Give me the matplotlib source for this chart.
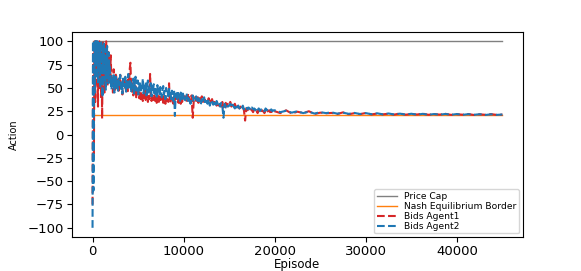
import numpy as np
import matplotlib
matplotlib.use("Agg")
import matplotlib.pyplot as plt

# =========================
# 1. DONNÉES
# =========================
price_cap = 100
nash_border = 20.6
last_episode = 45000

# segments d'épisodes : (début, fin)
segments = [(0, 2000), (2000, 10000), (10000, 20000), (20000, 45000)]

bids_agent1 = [
    # 0 - 2000
    [-75, 60, 95, -20, 80, 100, 35, 90, 70, 100, 55, 85, 30, 95, 68, 100, 50, 78, 92, 40,
     85, 17, 70, 100, 60, 88, 45, 95, 72, 58, 100, 64, 80, 52, 90, 60, 75, 56, 82, 62],
    # 2000 - 10000
    [85, 52, 62, 45, 70, 55, 48, 66, 58, 50,
     60, 47, 56, 64, 49, 55, 43, 58, 52, 61,
     48, 57, 51, 44, 59, 53, 70, 77, 50, 46,
     55, 42, 49, 45, 52, 40, 47, 43, 50, 39,
     44, 38, 46, 41, 36, 43, 39, 47, 37, 42,
     40, 35, 44, 38, 65, 41, 36, 43, 39, 37,
     42, 36, 40, 34, 44, 38, 35, 41, 37, 39,
     36, 42, 34, 39, 37, 33, 40, 36, 38, 35,
     55, 37, 34, 40, 36, 39, 33, 41, 35, 38,
     42, 36, 39, 34, 43, 37, 33, 40, 35, 41],
    # 10000 - 20000
    [43, 38, 41, 36, 44, 39, 35, 42, 18, 38,
     40, 36, 42, 34, 39, 37, 41, 35, 38, 36,
     37, 34, 39, 33, 36, 38, 32, 35, 34, 31,
     34, 31, 33, 30, 35, 29, 32, 34, 30, 33,
     32, 35, 30, 34, 31, 33, 29, 32, 30, 28,
     30, 27, 29, 26, 15, 28, 26, 27, 25, 27,
     26, 24, 27, 25, 26, 23, 27, 25, 24, 26,
     25, 23, 26, 24, 25, 26, 24, 25, 23, 25],
    # 20000 - 45000
    [25, 23, 26, 22.5, 24.5, 23, 25, 22, 23.5, 22.8,
     23.2, 22, 23.8, 21.8, 22.9, 21.9, 23.1, 21.6, 22.5, 21.7,
     22.3, 21.4, 22.6, 21.3, 22.1, 21.5, 22.4, 21.2, 21.9, 21.4,
     22.2, 21.1, 21.8, 21.3, 22, 21, 21.7, 21.2, 21.9, 21.1, 21.4],
]

bids_agent2 = [
    # 0 - 2000
    [-100, 100, -60, 90, 100, 45, 100, 75, 100, 60, 95, 100, 55, 85, 100, 70, 98, 50, 90, 100,
     65, 88, 40, 95, 72, 100, 58, 80, 92, 48, 85, 70, 95, 62, 78, 55, 88, 66, 74, 58],
    # 2000 - 10000
    [63, 48, 60, 52, 66, 45, 58, 62, 50, 57,
     47, 61, 53, 64, 49, 56, 44, 60, 54, 51,
     62, 46, 57, 50, 65, 52, 48, 59, 45, 56,
     50, 60, 44, 55, 62, 47, 53, 58, 43, 51,
     57, 45, 52, 48, 60, 44, 54, 49, 56, 42,
     51, 58, 43, 50, 47, 55, 41, 52, 46, 54,
     44, 50, 48, 39, 53, 45, 49, 42, 51, 46,
     40, 48, 52, 43, 47, 38, 50, 44, 46, 41,
     49, 42, 45, 38, 47, 43, 36, 46, 20, 41,
     44, 37, 47, 40, 43, 36, 45, 41, 38, 44],
    # 10000 - 20000
    [41, 35, 39, 44, 36, 40, 33, 38, 42, 35,
     37, 41, 34, 39, 36, 32, 38, 35, 40, 33,
     36, 33, 38, 31, 35, 37, 32, 34, 30, 36,
     33, 35, 30, 34, 31, 18, 33, 29, 32, 30,
     31, 33, 29, 32, 30, 28, 32, 29, 31, 28,
     30, 28, 31, 27, 29, 30, 27, 29, 28, 26,
     29, 27, 28, 26, 29, 27, 28, 25, 27, 26,
     27, 25, 28, 26, 27, 25, 26, 27, 25, 26],
    # 20000 - 45000
    [26, 24, 25.5, 23.5, 25, 23, 24.5, 22.5, 24, 23,
     23.8, 22.4, 23.5, 22.2, 23.2, 22, 23, 21.8, 22.8, 21.6,
     22.6, 21.5, 22.4, 21.4, 22.3, 21.3, 22.2, 21.2, 22, 21.3,
     22.1, 21.2, 22, 21.1, 21.9, 21.2, 21.8, 21, 21.7, 21.1, 21.5],
]


def build_series(parts):
    xs, ys = [], []
    for i, ((start, end), vals) in enumerate(zip(segments, parts)):
        last = i == len(segments) - 1
        xs.append(np.linspace(start, end, len(vals), endpoint=last))
        ys.append(np.array(vals, dtype=float))
    return np.concatenate(xs), np.concatenate(ys)


ep1, y1 = build_series(bids_agent1)
ep2, y2 = build_series(bids_agent2)

# =========================
# 2. GRAPHIQUE
# =========================
fig = plt.figure(figsize=(5.81, 2.71), dpi=100)
ax = fig.add_axes([0.124, 0.125, 0.776, 0.757])

ax.plot([0, last_episode], [price_cap, price_cap], color="gray", linewidth=1.0, label="Price Cap")
ax.plot([0, last_episode], [nash_border, nash_border], color="tab:orange", linewidth=1.0,
        label="Nash Equilibrium Border")
ax.plot(ep1, y1, "--", color="tab:red", linewidth=1.5, label="Bids Agent1")
ax.plot(ep2, y2, "--", color="tab:blue", linewidth=1.5, label="Bids Agent2")

ax.set_xlim(-2250, 47250)
ax.set_ylim(-110, 110)
ax.set_yticks([-100, -75, -50, -25, 0, 25, 50, 75, 100])
ax.set_xticks([0, 10000, 20000, 30000, 40000])
ax.tick_params(labelsize=9.5, pad=2.5)
ax.set_xlabel("Episode", fontsize=8.5, labelpad=0)
ax.set_ylabel("Action", fontsize=7, labelpad=6)
ax.legend(loc="lower right", fontsize=6.6, framealpha=0.8, labelspacing=0.1,
          borderpad=0.3, handlelength=2.2, borderaxespad=0.4)

plt.savefig("out.png", dpi=100)
